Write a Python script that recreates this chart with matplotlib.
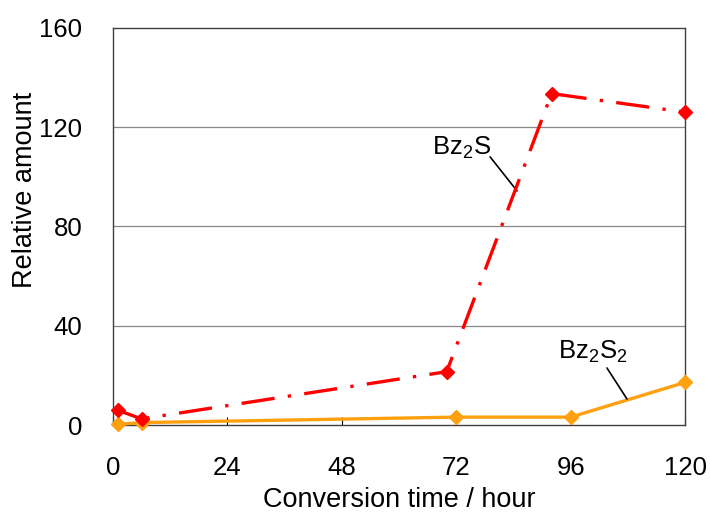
import matplotlib
matplotlib.use("Agg")
import matplotlib.pyplot as plt

plt.rcParams.update({
    "font.family": ["Liberation Sans", "DejaVu Sans"],
    "font.size": 18.5,
    "mathtext.default": "regular",
})

# Bz2S (red, dash-dot)
bz2s_t = [1, 6, 70, 92, 120]
bz2s_y = [6, 2.5, 21.5, 133.5, 126]

# Bz2S2 (orange, solid)
bz2s2_t = [1, 6, 72, 96, 120]
bz2s2_y = [0.3, 1, 3.2, 3.2, 17.2]

xticks = [0, 24, 48, 72, 96, 120]
yticks = [0, 40, 80, 120, 160]

fig = plt.figure(figsize=(7.1, 5.14), dpi=100)
ax = fig.add_axes([0.159, 0.173, 0.806, 0.773])

for y in yticks[1:-1]:
    ax.axhline(y, color="#888888", linewidth=0.9, zorder=1)

ax.plot(bz2s2_t, bz2s2_y, "-D", color="#FFA010", linewidth=2.4,
        markersize=7.5, zorder=3, clip_on=False)
line, = ax.plot(bz2s_t, bz2s_y, "-D", color="#FF0000", linewidth=2.4,
                markersize=7.5, zorder=4, clip_on=False)
line.set_dashes((10, 4, 1, 4))

# labels with leader lines
ax.text(73.0, 111.6, "Bz$_2$S", ha="center", va="center")
ax.annotate("", xy=(84.75, 94.3), xytext=(79.1, 108.0),
            arrowprops=dict(arrowstyle="-", color="black", lw=1.2,
                            shrinkA=0, shrinkB=0))
ax.text(100.7, 29.4, "Bz$_2$S$_2$", ha="center", va="center")
ax.annotate("", xy=(107.8, 10.5), xytext=(103.6, 23.0),
            arrowprops=dict(arrowstyle="-", color="black", lw=1.2,
                            shrinkA=0, shrinkB=0))

ax.set_xlim(0, 120)
ax.set_ylim(0, 160)
ax.set_xticks(xticks)
ax.set_yticks(yticks)
ax.tick_params(axis="x", direction="in", length=6, pad=22, width=0.8)
ax.tick_params(axis="y", length=0, pad=22)
for s in ax.spines.values():
    s.set_color("#404040")
    s.set_linewidth(1.0)

ax.set_xlabel("Conversion time / hour", fontsize=19.5)
ax.set_ylabel("Relative amount", fontsize=19.5)
ax.xaxis.set_label_coords(0.5, -0.156)
ax.yaxis.set_label_coords(-0.131, 0.592)

fig.savefig("out.png", dpi=100)
